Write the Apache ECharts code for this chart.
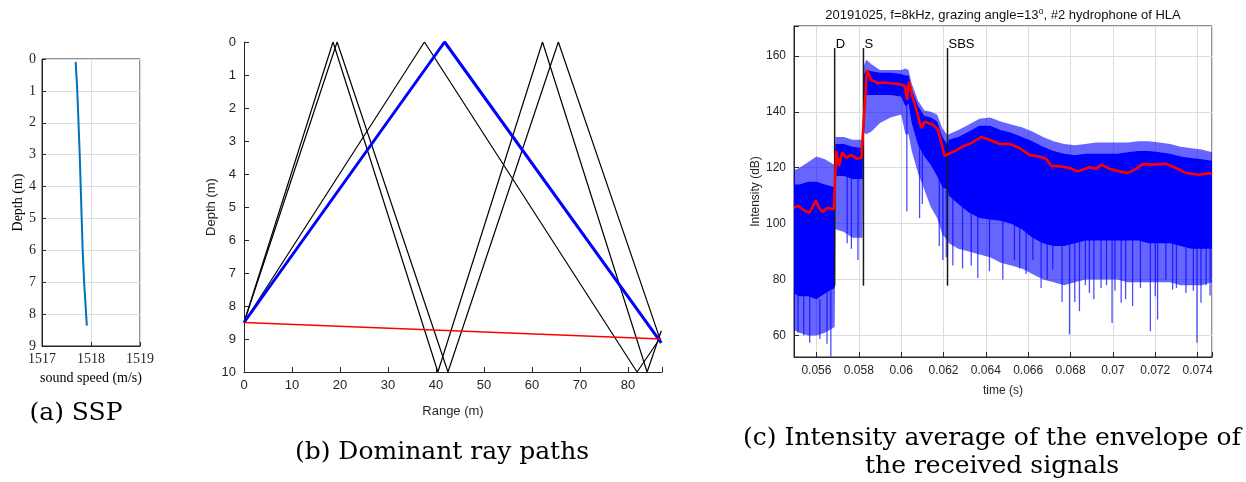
<!DOCTYPE html>
<html><head><meta charset="utf-8">
<script src="https://cdn.jsdelivr.net/npm/echarts@6/dist/echarts.min.js"></script>
<style>html,body{margin:0;padding:0;background:#fff}#c{width:1246px;height:482px}</style>
</head><body><div id="c"></div>
<script>
// ---------- (a) SSP ----------
const sspSpeed = [1517.687, 1517.72, 1517.745, 1517.77, 1517.79, 1517.81, 1517.83, 1517.86, 1517.9, 1517.915];
const sspDepth = [0.09, 1, 2, 3, 4, 5, 6, 7, 8, 8.36];

// ---------- (b) ray paths (range m, depth m of vertices) ----------
const ray1Range = [0, 18.55, 40.4, 62.2, 84.0, 86.95];
const ray1Depth = [8.5, 0, 10, 0, 10, 8.75];
const ray2Range = [0, 19.4, 42.5, 65.5, 86.8];
const ray2Depth = [8.5, 0, 10, 0, 9.05];
const ray3Range = [0, 37.6, 81.9, 86.6];
const ray3Depth = [8.5, 0, 10, 9.0];
const blueRayRange = [0, 41.8, 86.95];
const blueRayDepth = [8.5, 0, 9.12];
const directRange = [0, 86.95];
const directDepth = [8.5, 9.0];

// ---------- (c) intensity ----------
const redT = [0.05494, 0.05513, 0.05545, 0.05568, 0.05597, 0.05616, 0.05631, 0.05650, 0.05682, 0.05686,
  0.05694, 0.05707, 0.05721, 0.05741, 0.05765, 0.05789, 0.05812, 0.05820, 0.05839, 0.05859,
  0.05891, 0.05914, 0.05946, 0.05993, 0.06017, 0.06028, 0.06037, 0.06053, 0.06072, 0.06095,
  0.06111, 0.06150, 0.06174, 0.06205, 0.06229, 0.06260, 0.06292, 0.06331, 0.06378, 0.06418,
  0.06465, 0.06512, 0.06559, 0.06606, 0.06653, 0.06685, 0.06708, 0.06748, 0.06795, 0.06834,
  0.06889, 0.06921, 0.06944, 0.06984, 0.07031, 0.07070, 0.07109, 0.07141, 0.07188, 0.07251,
  0.07298, 0.07345, 0.07408, 0.07455, 0.07468];
const redDb = [105.8, 106.3, 104.6, 104.0, 108.2, 105.2, 104.2, 105.6, 105.2, 105.3,
  126.0, 120.5, 125.4, 123.5, 124.6, 123.2, 123.5, 123.8, 155.0, 151.4,
  150.2, 150.5, 150.2, 149.9, 149.3, 144.3, 150.8, 145.5, 140.7, 134.2,
  136.5, 135.4, 133.6, 124.3, 125.1, 126.2, 127.6, 128.8, 131.0, 130.0,
  128.5, 128.6, 127.0, 124.6, 124.0, 123.1, 120.7, 120.5, 119.9, 118.7,
  120.2, 119.6, 121.1, 119.6, 118.7, 118.1, 119.6, 121.3, 121.1, 121.4,
  119.9, 118.1, 117.5, 118.1, 117.7];

// blue cloud of individual envelopes: [time, sparse top, dense top, dense bottom, sparse bottom] (dB)
const blueEnvelope = [
  [0.05494, 119, 114, 75, 62], [0.05520, 120, 114, 74, 61], [0.05560, 122, 115, 74, 60],
  [0.05600, 124, 115, 73, 60], [0.05640, 123, 114, 75, 61], [0.05686, 121, 113, 77, 63],
  [0.05690, 131, 128.5, 117, 98], [0.05730, 131, 128.5, 117, 97], [0.05770, 130, 127.5, 116, 95],
  [0.05818, 130, 127, 116, 95], [0.05822, 156, 153, 146, 133], [0.05835, 158.6, 155, 146, 132],
  [0.05860, 157, 154.5, 146, 133], [0.05900, 155, 154, 146, 136], [0.05950, 155, 154, 146, 138],
  [0.06000, 155, 153.5, 145.5, 139], [0.06020, 155.5, 153, 142, 132], [0.06035, 155, 153, 143, 132],
  [0.06050, 150, 148, 136, 126], [0.06080, 144, 142, 128, 118], [0.06110, 140.5, 138.5, 124, 112],
  [0.06140, 140, 138, 121, 106], [0.06170, 139, 136.5, 117, 102], [0.06195, 134, 131, 113, 96],
  [0.06220, 131.5, 128, 112, 94], [0.06225, 132, 130, 110, 93], [0.06270, 133.5, 131, 107, 91],
  [0.06320, 135.5, 133, 104, 90], [0.06370, 137.5, 135, 102, 89], [0.06420, 138, 135, 101.5, 88],
  [0.06470, 136.5, 133.5, 101, 86], [0.06520, 135.5, 132.5, 100, 85], [0.06570, 134.5, 131, 98, 84],
  [0.06620, 133, 129.5, 95, 82], [0.06670, 131, 127.5, 93, 80], [0.06720, 129.5, 126, 92, 79],
  [0.06770, 128.5, 125, 92, 78], [0.06820, 128, 124.5, 93, 79], [0.06870, 128.5, 125, 94, 80],
  [0.06920, 129, 125, 94, 80], [0.06970, 129, 125, 94, 80], [0.07020, 129, 125, 94, 80],
  [0.07070, 129, 125.5, 94, 79], [0.07120, 129.5, 126, 94, 79], [0.07170, 129.5, 126, 93, 79],
  [0.07220, 129, 125.5, 93, 79], [0.07270, 128.5, 125, 93, 79], [0.07320, 127.5, 124, 92, 78],
  [0.07370, 127, 123.5, 91, 78], [0.07420, 126.5, 123, 91, 78], [0.07468, 125.5, 122.5, 91, 79]
];
// deep dips of individual traces: [time, from dB, to dB]
const blueSpikes = [
  [0.05513, 75, 61], [0.05540, 74, 60], [0.05568, 74, 57.4], [0.05616, 73, 58.7], [0.05650, 76, 57], [0.05668, 76, 52.5],
  [0.05745, 117, 93], [0.05765, 117, 91], [0.05796, 117, 87],
  [0.06027, 143, 104.4], [0.06087, 133, 102], [0.06100, 130, 107], [0.06180, 120, 92], [0.06197, 114, 87], [0.06213, 112, 88],
  [0.06244, 110, 85], [0.06290, 106, 84], [0.06331, 104, 85], [0.06362, 103, 80.6], [0.06417, 102, 83],
  [0.06480, 101, 80], [0.06535, 101, 87], [0.06560, 99, 84], [0.06590, 98, 82], [0.06622, 98, 87],
  [0.06661, 95, 77], [0.06690, 94, 80], [0.06716, 93, 83.6], [0.06760, 93, 72], [0.06795, 93, 60.4],
  [0.06820, 94, 72], [0.06842, 94, 68.7], [0.06870, 95, 78], [0.06889, 95, 75.2], [0.06910, 95, 73],
  [0.06944, 95, 77], [0.06970, 95, 78], [0.06996, 95, 64.5], [0.07010, 95, 76], [0.07039, 95, 71.7],
  [0.07060, 95, 73], [0.07093, 95, 70.5], [0.07130, 95, 77], [0.07177, 94, 61.5], [0.07200, 94, 74],
  [0.07211, 94, 65.7], [0.07250, 94, 80], [0.07282, 94, 76.4], [0.07300, 93, 77], [0.07345, 92, 75.2],
  [0.07380, 92, 76], [0.07397, 92, 57.4], [0.07416, 92, 71.7], [0.07440, 92, 78], [0.07459, 92, 74.3]
];
const markerNames = ['D', 'S', 'SBS'];
const markerT = [0.05686, 0.05822, 0.06219];
const markerLow = 77.8, markerHigh = 162.8;

// ---------- helpers ----------
const pairs = (xs, ys) => xs.map((x, i) => [x, ys[i]]);
const SANS = 'Liberation Sans', SERIF = 'Liberation Serif', AX = '#262626';
const multipleOf = (v, s) => Math.abs(v / s - Math.round(v / s)) < 1e-6;

function band(topIdx, lowIdx, color, z) {
  return {
    type: 'custom', xAxisIndex: 2, yAxisIndex: 2, silent: true, z: z, clip: true,
    data: [[blueEnvelope[0][0], blueEnvelope[0][topIdx]]],
    renderItem: (params, api) => {
      const up = blueEnvelope.map(r => api.coord([r[0], r[topIdx]]));
      const lo = blueEnvelope.slice().reverse().map(r => api.coord([r[0], r[lowIdx]]));
      return { type: 'polygon', shape: { points: up.concat(lo) }, style: { fill: color } };
    }
  };
}
function ray(xs, ys, color, w, z) {
  return { type: 'line', xAxisIndex: 1, yAxisIndex: 1, data: pairs(xs, ys), symbol: 'none', z: z,
    lineStyle: { color: color, width: w }, silent: true };
}

const chart = echarts.init(document.getElementById('c'), null, { renderer: 'canvas' });
chart.setOption({
  animation: false,
  grid: [
    { left: 42, top: 59, width: 98, height: 287, show: true, borderColor: AX, borderWidth: 1, outerBoundsMode: 'none' },
    { left: 244, top: 42, width: 418, height: 330, outerBoundsMode: 'none' },
    { left: 794, top: 26, width: 418, height: 331, show: true, borderColor: AX, borderWidth: 1, outerBoundsMode: 'none' }
  ],
  xAxis: [
    { gridIndex: 0, type: 'value', min: 1517, max: 1519, interval: 1, position: 'bottom',
      axisLine: { onZero: false, lineStyle: { color: AX } }, axisTick: { inside: true, length: 4, lineStyle: { color: AX } },
      axisLabel: { fontFamily: SERIF, fontSize: 14, color: AX, margin: 6, formatter: v => String(Math.round(v)) },
      splitLine: { show: true, lineStyle: { color: '#dedede' } },
      name: 'sound speed (m/s)', nameLocation: 'middle', nameGap: 24,
      nameTextStyle: { fontFamily: SERIF, fontSize: 14, color: '#000' } },
    { gridIndex: 1, type: 'value', min: 0, max: 87.1, interval: 10, position: 'bottom',
      axisLine: { onZero: false, lineStyle: { color: AX } }, axisTick: { inside: true, length: 5, lineStyle: { color: AX } },
      axisLabel: { fontFamily: SANS, fontSize: 13, color: AX, margin: 7, formatter: v => multipleOf(v, 10) ? String(Math.round(v)) : '' },
      splitLine: { show: false },
      name: 'Range (m)', nameLocation: 'middle', nameGap: 33,
      nameTextStyle: { fontFamily: SANS, fontSize: 13, color: AX } },
    { gridIndex: 2, type: 'value', min: 0.05494, max: 0.07468, splitNumber: 10, position: 'bottom',
      axisLine: { onZero: false, lineStyle: { color: AX } }, axisTick: { inside: true, length: 5, lineStyle: { color: AX } },
      axisLabel: { fontFamily: SANS, fontSize: 12, color: AX, margin: 8,
        formatter: v => multipleOf(v, 0.002) ? String(+(Math.round(v / 0.002) * 0.002).toFixed(3)) : '' },
      splitLine: { show: true, lineStyle: { color: '#dcdcdc' } },
      name: 'time (s)', nameLocation: 'middle', nameGap: 28,
      nameTextStyle: { fontFamily: SANS, fontSize: 12, color: AX } }
  ],
  yAxis: [
    { gridIndex: 0, type: 'value', min: 0, max: 9, interval: 1, inverse: true,
      axisLine: { onZero: false, lineStyle: { color: AX } }, axisTick: { inside: true, length: 4, lineStyle: { color: AX } },
      axisLabel: { fontFamily: SERIF, fontSize: 14, color: AX, margin: 6 },
      splitLine: { show: true, lineStyle: { color: '#dedede' } },
      name: 'Depth (m)', nameLocation: 'middle', nameGap: 17,
      nameTextStyle: { fontFamily: SERIF, fontSize: 14, color: '#000' } },
    { gridIndex: 1, type: 'value', min: 0, max: 10, interval: 1, inverse: true,
      axisLine: { onZero: false, lineStyle: { color: AX } }, axisTick: { inside: true, length: 5, lineStyle: { color: AX } },
      axisLabel: { fontFamily: SANS, fontSize: 13, color: AX, margin: 8 },
      splitLine: { show: false },
      name: 'Depth (m)', nameLocation: 'middle', nameGap: 24,
      nameTextStyle: { fontFamily: SANS, fontSize: 13, color: AX } },
    { gridIndex: 2, type: 'value', min: 52.3, max: 170.7, splitNumber: 6,
      axisLine: { onZero: false, lineStyle: { color: AX } }, axisTick: { inside: true, length: 5, lineStyle: { color: AX } },
      axisLabel: { fontFamily: SANS, fontSize: 12, color: AX, margin: 8,
        formatter: v => multipleOf(v, 20) ? String(Math.round(v)) : '' },
      splitLine: { show: true, lineStyle: { color: '#dcdcdc' } },
      name: 'Intensity (dB)', nameLocation: 'middle', nameGap: 30,
      nameTextStyle: { fontFamily: SANS, fontSize: 12, color: AX } }
  ],
  graphic: [
    { type: 'text', x: 1003, y: 15, silent: true,
      style: { text: '20191025, f=8kHz, grazing angle=13{sup|o}, #2 hydrophone of HLA', fontFamily: SANS, fontSize: 13,
        fill: '#111', align: 'center', verticalAlign: 'middle',
        rich: { sup: { fontFamily: SANS, fontSize: 9, verticalAlign: 'top', fill: '#111', padding: [0, 0, 6, 0] } } } },
    { type: 'text', x: 76, y: 413, silent: true,
      style: { text: '(a) SSP', fontFamily: 'DejaVu Serif', fontSize: 25, fill: '#000', align: 'center', verticalAlign: 'middle' } },
    { type: 'text', x: 442, y: 452, silent: true,
      style: { text: '(b) Dominant ray paths', fontFamily: 'DejaVu Serif', fontSize: 25, fill: '#000', align: 'center', verticalAlign: 'middle' } },
    { type: 'text', x: 992, y: 438, silent: true,
      style: { text: '(c) Intensity average of the envelope of', fontFamily: 'DejaVu Serif', fontSize: 25, fill: '#000', align: 'center', verticalAlign: 'middle' } },
    { type: 'text', x: 992, y: 466, silent: true,
      style: { text: 'the received signals', fontFamily: 'DejaVu Serif', fontSize: 25, fill: '#000', align: 'center', verticalAlign: 'middle' } }
  ],
  series: [
    { type: 'line', xAxisIndex: 0, yAxisIndex: 0, data: pairs(sspSpeed, sspDepth), symbol: 'none',
      lineStyle: { color: '#0072BD', width: 2 }, silent: true },
    ray(ray1Range, ray1Depth, '#000', 1.2, 2),
    ray(ray2Range, ray2Depth, '#000', 1.2, 2),
    ray(ray3Range, ray3Depth, '#000', 1.2, 2),
    ray(blueRayRange, blueRayDepth, '#0000ff', 3, 3),
    ray(directRange, directDepth, '#ff0000', 1.4, 4),
    band(1, 4, 'rgba(0,0,255,0.6)', 2),
    band(2, 3, '#0000ff', 3),
    { type: 'custom', xAxisIndex: 2, yAxisIndex: 2, silent: true, z: 3, clip: true, data: blueSpikes,
      encode: { x: 0, y: [1, 2] },
      renderItem: (params, api) => {
        const a = api.coord([api.value(0), api.value(1)]);
        const b = api.coord([api.value(0), api.value(2)]);
        return { type: 'line', shape: { x1: a[0], y1: a[1], x2: b[0], y2: b[1] },
          style: { stroke: 'rgba(0,0,255,0.7)', lineWidth: 1.3 } };
      } },
    { type: 'custom', xAxisIndex: 2, yAxisIndex: 2, silent: true, z: 4,
      data: markerT.map(t => [t, markerHigh]),
      renderItem: (params, api) => {
        const t = api.value(0);
        const p1 = api.coord([t, markerHigh]);
        const p2 = api.coord([t, markerLow]);
        return { type: 'group', children: [
          { type: 'line', shape: { x1: p1[0], y1: p1[1], x2: p2[0], y2: p2[1] }, style: { stroke: '#1a1a1a', lineWidth: 1.5 } },
          { type: 'text', x: p1[0] + 1, y: p1[1] + 3,
            style: { text: markerNames[params.dataIndex], fontFamily: SANS, fontSize: 13, fill: '#000', align: 'left', verticalAlign: 'bottom' } }
        ] };
      } },
    { type: 'line', xAxisIndex: 2, yAxisIndex: 2, data: pairs(redT, redDb), symbol: 'none', z: 5,
      lineStyle: { color: '#ff0000', width: 2.6 }, silent: true }
  ]
});
</script></body></html>
